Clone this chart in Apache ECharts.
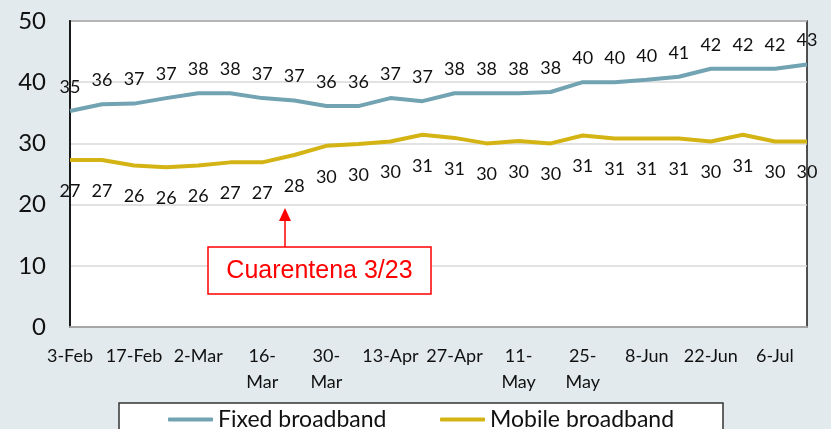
<!DOCTYPE html>
<html>
<head>
<meta charset="utf-8">
<script src="https://cdn.jsdelivr.net/npm/echarts@6/dist/echarts.min.js"></script>
<style>
  html, body { margin: 0; padding: 0; background: #e2eaed; }
  #main { width: 831px; height: 429px; }
</style>
</head>
<body>
<div id="main"></div>
<script>
// weekly dates (every second one is shown on the axis)
var weeks = ['3-Feb', '10-Feb', '17-Feb', '24-Feb', '2-Mar', '9-Mar', '16-Mar', '23-Mar',
  '30-Mar', '6-Apr', '13-Apr', '20-Apr', '27-Apr', '4-May', '11-May', '18-May',
  '25-May', '1-Jun', '8-Jun', '15-Jun', '22-Jun', '29-Jun', '6-Jul', '13-Jul'];
// labels that Excel wrapped onto two lines
var wrapped = ['16-Mar', '30-Mar', '11-May', '25-May'];

var fixedBroadband = [35.3, 36.4, 36.5, 37.4, 38.2, 38.2, 37.4, 37.0, 36.1, 36.1, 37.4, 36.9,
  38.2, 38.2, 38.2, 38.4, 40.0, 40.0, 40.4, 40.9, 42.2, 42.2, 42.2, 42.9];
var mobileBroadband = [27.3, 27.3, 26.4, 26.1, 26.4, 26.9, 26.9, 28.1, 29.6, 29.9, 30.3, 31.4,
  30.9, 30.0, 30.4, 30.0, 31.3, 30.8, 30.8, 30.8, 30.3, 31.4, 30.3, 30.3];

var yTicks = [0, 10, 20, 30, 40, 50];
var note = 'Cuarentena 3/23';

var font = 'Lato, "Noto Sans", sans-serif';

var myChart = echarts.init(document.getElementById('main'));

var option = {
  animation: false,
  backgroundColor: '#e2eaed',
  grid: {
    left: 70, right: 24, top: 21, bottom: 102,
    show: true, backgroundColor: '#ffffff',
    borderColor: '#1a1a1a', borderWidth: 1.5
  },
  legend: [{
    data: ['Fixed broadband'],
    left: 168, top: 408, padding: 0,
    icon: 'roundRect', itemWidth: 45, itemHeight: 4,
    textStyle: { fontFamily: font, fontSize: 23, color: '#111', lineHeight: 22 }
  }, {
    data: ['Mobile broadband'],
    left: 440, top: 408, padding: 0,
    icon: 'roundRect', itemWidth: 45, itemHeight: 4,
    textStyle: { fontFamily: font, fontSize: 23, color: '#111', lineHeight: 22 }
  }],
  xAxis: {
    type: 'category',
    data: weeks,
    boundaryGap: false,
    axisLine: { lineStyle: { color: '#a6a6a6', width: 2 } },
    axisTick: { show: false },
    axisLabel: {
      interval: 1,
      margin: 16,
      fontFamily: font, fontSize: 18, color: '#111', lineHeight: 26,
      formatter: function (v) {
        return wrapped.indexOf(v) >= 0 ? v.replace('-', '-\n') : v;
      }
    }
  },
  yAxis: {
    type: 'value',
    min: yTicks[0], max: yTicks[yTicks.length - 1], interval: 10,
    axisLine: { show: true, lineStyle: { color: '#1a1a1a', width: 2 } },
    axisTick: { show: false },
    splitLine: { lineStyle: { color: '#d9d9d9', width: 1.5 } },
    axisLabel: { margin: 24, fontFamily: font, fontSize: 24, color: '#111' }
  },
  series: [{
    name: 'Fixed broadband',
    type: 'line',
    data: fixedBroadband,
    symbol: 'circle', symbolSize: 0,
    itemStyle: { color: '#72a3b3' },
    lineStyle: { color: '#72a3b3', width: 4 },
    label: {
      show: true, position: 'top', distance: 15,
      fontFamily: font, fontSize: 18, color: '#111',
      formatter: function (p) { return Math.round(p.value); }
    },
    z: 3
  }, {
    name: 'Mobile broadband',
    type: 'line',
    data: mobileBroadband,
    symbol: 'circle', symbolSize: 0,
    itemStyle: { color: '#d4b414' },
    lineStyle: { color: '#d4b414', width: 4 },
    label: {
      show: true, position: 'bottom', distance: 22,
      fontFamily: font, fontSize: 18, color: '#111',
      formatter: function (p) { return Math.round(p.value); }
    },
    z: 3
  }],
  graphic: [
    // legend frame
    { type: 'rect', z: 0, shape: { x: 119, y: 403, width: 604, height: 40 },
      style: { fill: '#ffffff', stroke: '#333333', lineWidth: 1.5 } },
    // annotation arrow
    { type: 'line', z: 10, shape: { x1: 285, y1: 247, x2: 285, y2: 219 },
      style: { stroke: '#ff0000', lineWidth: 1.5 } },
    { type: 'polygon', z: 10, shape: { points: [[285, 208], [279, 221], [291, 221]] },
      style: { fill: '#ff0000' } },
    { type: 'rect', z: 10, shape: { x: 208, y: 247, width: 223, height: 47 },
      style: { fill: '#ffffff', stroke: '#ff0000', lineWidth: 1.5 } },
    { type: 'text', z: 11, x: 319.5, y: 271,
      style: { text: note, fill: '#ff0000', font: '25px "Liberation Sans", Arial, sans-serif',
        textAlign: 'center', textVerticalAlign: 'middle' } }
  ]
};
myChart.setOption(option);
</script>
</body>
</html>
